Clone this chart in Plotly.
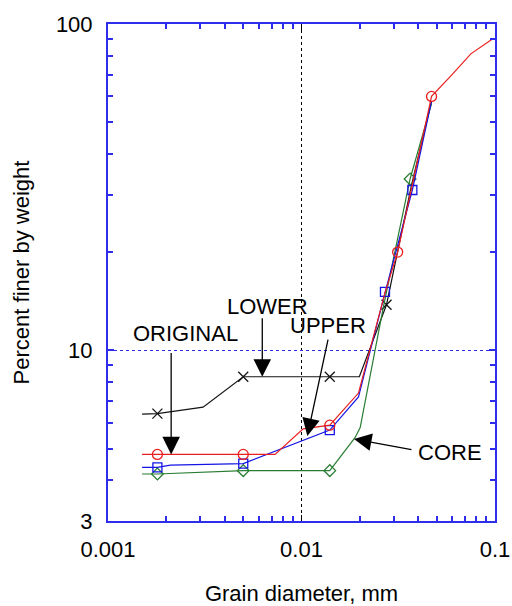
import math
import plotly.graph_objects as go

# ---------------- data ----------------
# ORIGINAL (red)
orig_line_x = [0.0015, 0.0018, 0.005, 0.0073, 0.0102, 0.014, 0.0197, 0.027, 0.0314, 0.037, 0.047, 0.06, 0.075, 0.097]
orig_line_y = [4.8, 4.8, 4.8, 4.8, 5.75, 5.9, 7.4, 15, 20, 31, 60, 70, 81, 90]
orig_mark_x = [0.0018, 0.005, 0.014, 0.0314, 0.047]
orig_mark_y = [4.8, 4.8, 5.9, 20, 60]

# UPPER (blue)
upper_line_x = [0.0015, 0.0018, 0.0021, 0.005, 0.014, 0.0197, 0.027, 0.0374, 0.047]
upper_line_y = [4.38, 4.38, 4.45, 4.5, 5.7, 7.2, 15, 31, 58]
upper_mark_x = [0.0018, 0.005, 0.014, 0.027, 0.0374]
upper_mark_y = [4.38, 4.5, 5.7, 15.1, 31]

# CORE (green)
core_line_x = [0.0015, 0.0018, 0.005, 0.014, 0.0189, 0.0201, 0.0265, 0.0364, 0.047]
core_line_y = [4.18, 4.18, 4.28, 4.28, 5.4, 5.8, 13.6, 33.5, 57]
core_mark_x = [0.0018, 0.005, 0.014, 0.0364]
core_mark_y = [4.18, 4.28, 4.28, 33.5]

# LOWER (black)
lower_line_x = [0.0015, 0.0018, 0.0031, 0.005, 0.014, 0.0199, 0.0275, 0.037, 0.047]
lower_line_y = [6.38, 6.4, 6.7, 8.3, 8.3, 8.3, 13.8, 32, 58]
lower_mark_x = [0.0018, 0.005, 0.014, 0.0275]
lower_mark_y = [6.4, 8.3, 8.3, 13.8]

x_tick_vals = [0.001, 0.01, 0.1]
x_tick_text = ["0.001", "0.01", "0.1"]
y_tick_vals = [3, 10, 100]
y_tick_text = ["3", "10", "100"]
x_minor = [m * d for d in (0.001, 0.01) for m in range(2, 10)]
y_minor = [4, 5, 6, 7, 8, 9, 20, 30, 40, 50, 60, 70, 80, 90]

# ---------------- styling ----------------
FONT = "Liberation Sans, Arial, sans-serif"
AXIS_BLUE = "rgb(45,45,235)"
RED = "rgb(235,30,30)"
BLUE = "rgb(20,20,230)"
GREEN = "rgb(40,125,50)"
BLACK = "rgb(20,20,20)"

fig = go.Figure()

series = [
    (lower_line_x, lower_line_y, lower_mark_x, lower_mark_y, BLACK, "x-thin-open", 10),
    (core_line_x, core_line_y, core_mark_x, core_mark_y, GREEN, "diamond-open", 9),
    (upper_line_x, upper_line_y, upper_mark_x, upper_mark_y, BLUE, "square-open", 9),
    (orig_line_x, orig_line_y, orig_mark_x, orig_mark_y, RED, "circle-open", 10),
]
for lx, ly, mx, my, col, sym, sz in series:
    fig.add_trace(go.Scatter(x=lx, y=ly, mode="lines",
                             line=dict(color=col, width=1.2),
                             showlegend=False, hoverinfo="skip"))
    fig.add_trace(go.Scatter(x=mx, y=my, mode="markers",
                             marker=dict(symbol=sym, size=sz, color=col,
                                         line=dict(color=col, width=1.3)),
                             showlegend=False))

# ---------------- annotations ----------------
def lg(v):
    return math.log10(v)

labels = [
    ("LOWER", 0.00671, 13.6),
    ("ORIGINAL", 0.00252, 11.24),
    ("UPPER", 0.01366, 11.89),
    ("CORE", 0.0583, 4.86),
]
for txt, tx, ty in labels:
    fig.add_annotation(x=lg(tx), y=lg(ty), xref="x", yref="y", text=txt,
                       showarrow=False, font=dict(family=FONT, size=22, color="black"),
                       xanchor="center", yanchor="middle")

arrows = [
    # tip x, tip y, tail offset px (ax, ay)
    (0.00627, 8.3, 0, -60),
    (0.00212, 4.8, 0, -103),
    (0.01072, 5.46, 21, -98),
    (0.01867, 5.35, 59, 11),
]
for tx, ty, ax, ay in arrows:
    fig.add_annotation(x=lg(tx), y=lg(ty), xref="x", yref="y", text="",
                       showarrow=True, ax=ax, ay=ay, arrowhead=2, arrowsize=2.7,
                       arrowwidth=1.3, arrowcolor="black", standoff=0)

fig.update_layout(
    width=512, height=606,
    margin=dict(l=108, r=17, t=24, b=85, autoexpand=False),
    paper_bgcolor="white", plot_bgcolor="white",
    font=dict(family=FONT, color="black"),
    showlegend=False,
)
fig.update_xaxes(
    type="log", range=[-3, -1], automargin=False,
    tickvals=x_tick_vals, ticktext=x_tick_text,
    tickfont=dict(family=FONT, size=22, color="black"),
    ticks="inside", ticklen=6, tickcolor="black", tickwidth=1,
    ticklabelstandoff=8,
    showline=True, linecolor=AXIS_BLUE, linewidth=2, mirror="allticks",
    showgrid=True, gridcolor="black", gridwidth=1, griddash="dot",
    zeroline=False,
    minor=dict(tickvals=x_minor, ticks="inside", ticklen=5, tickcolor=AXIS_BLUE,
               tickwidth=1.5, showgrid=False),
    title=dict(text="Grain diameter, mm", font=dict(family=FONT, size=22, color="black"),
               standoff=26),
)
fig.update_yaxes(
    type="log", range=[math.log10(3), 2], automargin=False,
    tickvals=y_tick_vals, ticktext=y_tick_text,
    tickfont=dict(family=FONT, size=22, color="black"),
    ticks="inside", ticklen=6, tickcolor=AXIS_BLUE, tickwidth=1.5,
    ticklabelstandoff=9,
    showline=True, linecolor=AXIS_BLUE, linewidth=2, mirror="allticks",
    showgrid=True, gridcolor=AXIS_BLUE, gridwidth=1.2, griddash="dot",
    zeroline=False,
    minor=dict(tickvals=y_minor, ticks="inside", ticklen=5, tickcolor=AXIS_BLUE,
               tickwidth=1.5, showgrid=False),
    title=dict(text="Percent finer by weight", font=dict(family=FONT, size=22, color="black"),
               standoff=20),
)

fig.write_html("out.html")
